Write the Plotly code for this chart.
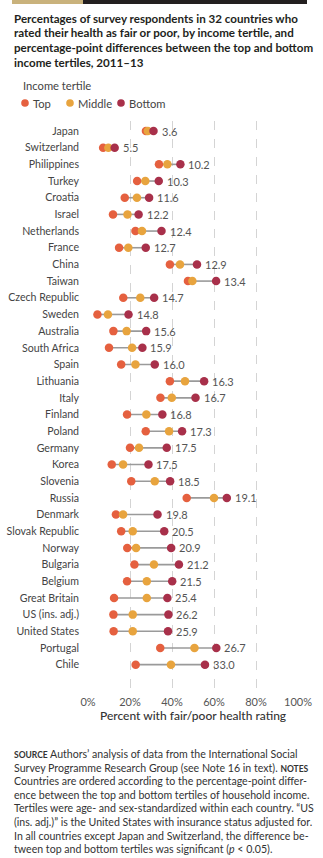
import plotly.graph_objects as go

# Survey results: share (%) rating health fair/poor, by income tertile
countries = [
    "Japan", "Switzerland", "Philippines", "Turkey", "Croatia", "Israel",
    "Netherlands", "France", "China", "Taiwan", "Czech Republic", "Sweden",
    "Australia", "South Africa", "Spain", "Lithuania", "Italy", "Finland",
    "Poland", "Germany", "Korea", "Slovenia", "Russia", "Denmark",
    "Slovak Republic", "Norway", "Bulgaria", "Belgium", "Great Britain",
    "US (ins. adj.)", "United States", "Portugal", "Chile",
]

top_tertile = [
    27.6, 7.2, 33.8, 23.4, 17.5, 11.9, 22.6, 14.8, 39.0, 47.6, 16.8, 4.5,
    12.1, 10.0, 15.8, 39.0, 34.5, 18.6, 27.5, 20.0, 11.3, 20.6, 47.0, 13.3,
    15.8, 18.7, 22.1, 18.6, 12.4, 12.1, 12.2, 34.4, 22.7,
]
middle_tertile = [
    28.5, 9.7, 37.8, 27.3, 23.3, 18.8, 25.7, 19.2, 43.8, 49.7, 24.9, 9.5,
    18.4, 21.0, 22.6, 46.2, 39.9, 27.8, 38.6, 24.3, 16.7, 31.8, 60.0, 16.7,
    21.3, 22.9, 31.4, 28.0, 28.0, 21.3, 21.3, 50.7, 39.5,
]
gap_points = [
    3.6, 5.5, 10.2, 10.3, 11.6, 12.2, 12.4, 12.7, 12.9, 13.4, 14.7, 14.8,
    15.6, 15.9, 16.0, 16.3, 16.7, 16.8, 17.3, 17.5, 17.5, 18.5, 19.1, 19.8,
    20.5, 20.9, 21.2, 21.5, 25.4, 26.2, 25.9, 26.7, 33.0,
]
bottom_tertile = [round(t + g, 1) for t, g in zip(top_tertile, gap_points)]

x_ticks = [0, 20, 40, 60, 80, 100]
x_tick_text = ["0%", "20%", "40%", "60%", "80%", "100%"]

C_TOP = "#e5603f"
C_MID = "#e8a43e"
C_BOT = "#a8304a"
FONT = "Lato"

W, H = 323, 858
PL, PR, PT, PB = 88, 25, 121, 168
PW, PH = W - PL - PR, H - PT - PB


def px(x):
    return (x - PL) / PW


def py(y):
    return (H - PB - y) / PH


rows = list(range(len(countries)))

fig = go.Figure()

# connecting segments from top to bottom tertile
seg_x, seg_y = [], []
for i, (t, b) in enumerate(zip(top_tertile, bottom_tertile)):
    seg_x += [t, b, None]
    seg_y += [i, i, None]
fig.add_trace(go.Scatter(x=seg_x, y=seg_y, mode="lines",
                         line=dict(color="#9a9a9a", width=1.6),
                         hoverinfo="skip", showlegend=False))

for vals, col, name in [(top_tertile, C_TOP, "Top"),
                        (middle_tertile, C_MID, "Middle"),
                        (bottom_tertile, C_BOT, "Bottom")]:
    fig.add_trace(go.Scatter(x=vals, y=rows, mode="markers", name=name,
                             marker=dict(color=col, size=8.5,
                                         line=dict(width=0)),
                             showlegend=False))

annotations = []
# difference labels beside the bottom-tertile dot
for i, (b, g) in enumerate(zip(bottom_tertile, gap_points)):
    annotations.append(dict(x=b, y=i, xref="x", yref="y", text=f"{g:.1f}",
                            showarrow=False, xanchor="left", xshift=6,
                            font=dict(family=FONT, size=11, color="#555")))

# title
title_lines = [
    "Percentages of survey respondents in 32 countries who",
    "rated their health as fair or poor, by income tertile, and",
    "percentage-point differences between the top and bottom",
    "income tertiles, 2011–13",
]
for k, line in enumerate(title_lines):
    annotations.append(dict(x=px(12), y=py(18 + 14.8 * k), xref="paper",
                            yref="paper", text=f"<b>{line}</b>",
                            showarrow=False, xanchor="left", yanchor="middle",
                            font=dict(family=FONT, size=11.6, color="#231f20")))

# legend
annotations.append(dict(x=px(21), y=py(85), xref="paper", yref="paper",
                        text="Income tertile", showarrow=False,
                        xanchor="left", yanchor="middle",
                        font=dict(family=FONT, size=11.2, color="#444")))
shapes = []
for cx, tx, col, name in [(25, 31, C_TOP, "Top"), (70, 76, C_MID, "Middle"),
                          (121, 127, C_BOT, "Bottom")]:
    shapes.append(dict(type="circle", xref="paper", yref="paper",
                       xsizemode="pixel", ysizemode="pixel",
                       xanchor=px(cx), yanchor=py(103),
                       x0=-3.8, x1=3.8, y0=-3.8, y1=3.8,
                       fillcolor=col, line=dict(width=0)))
    annotations.append(dict(x=px(tx), y=py(103), xref="paper", yref="paper",
                            text=name, showarrow=False, xanchor="left",
                            yanchor="middle",
                            font=dict(family=FONT, size=11.2, color="#444")))

# top rule
shapes.append(dict(type="rect", xref="paper", yref="paper",
                   x0=px(12), x1=px(307), y0=py(4), y1=py(0),
                   fillcolor="#231f20", line=dict(width=0)))
shapes.append(dict(type="rect", xref="paper", yref="paper",
                   x0=px(12), x1=px(83), y0=py(4), y1=py(0),
                   fillcolor="#c9b27c", line=dict(width=0)))

# axis title
annotations.append(dict(x=0.5, y=py(716), xref="paper", yref="paper",
                        text="Percent with fair/poor health rating",
                        showarrow=False, xanchor="center", yanchor="middle",
                        font=dict(family=FONT, size=12, color="#333",
                                  weight=500)))

# source and notes
note_lines = [
    "<b><span style='font-size:8.5px'>SOURCE</span></b> Authors’ analysis of data from the International Social",
    "Survey Programme Research Group (see Note 16 in text). <b><span style='font-size:8.5px'>NOTES</span></b>",
    "Countries are ordered according to the percentage-point differ-",
    "ence between the top and bottom tertiles of household income.",
    "Tertiles were age- and sex-standardized within each country. “US",
    "(ins. adj.)” is the United States with insurance status adjusted for.",
    "In all countries except Japan and Switzerland, the difference be-",
    "tween top and bottom tertiles was significant (<i>p</i> < 0.05).",
]
for k, line in enumerate(note_lines):
    annotations.append(dict(x=px(12), y=py(754 + 13.6 * k), xref="paper",
                            yref="paper", text=line, showarrow=False,
                            xanchor="left", yanchor="middle",
                            font=dict(family=FONT, size=10.6, color="#333")))

fig.update_layout(
    width=W, height=H,
    margin=dict(l=PL, r=PR, t=PT, b=PB, pad=0),
    paper_bgcolor="white", plot_bgcolor="white",
    showlegend=False,
    annotations=annotations, shapes=shapes,
    xaxis=dict(range=[0, 100], tickvals=x_ticks, ticktext=x_tick_text,
               showgrid=True, gridcolor="#d4d4d4", griddash="dash",
               gridwidth=1, zeroline=False, showline=False, ticks="",
               tickfont=dict(family=FONT, size=11, color="#555"),
               ticklabelstandoff=4, automargin=False, fixedrange=True),
    yaxis=dict(range=[33.52, -0.6], tickvals=rows, ticktext=countries,
               showgrid=False, zeroline=False, showline=False, ticks="",
               tickfont=dict(family=FONT, size=10.6, color="#444"),
               ticklabelstandoff=8, automargin=False, fixedrange=True),
)

fig.write_html("out.html")
